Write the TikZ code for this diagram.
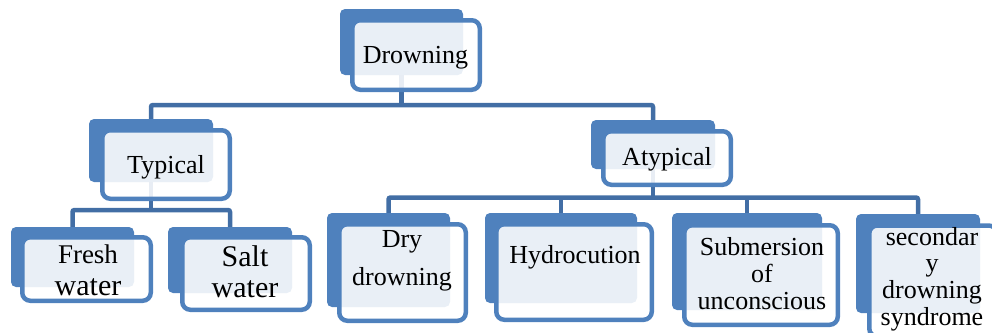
\documentclass[tikz,border=0pt]{standalone}
\usepackage{fontspec}
\setmainfont{Liberation Serif}
\definecolor{backblue}{RGB}{79,129,189}
\definecolor{lineblue}{RGB}{66,110,165}

\begin{document}
\begin{tikzpicture}[
    x=1pt, y=-1pt,
    backbox/.style 2 args={fill=backblue, rounded corners=5pt, inner sep=0pt,
        minimum width=#1pt, minimum height=#2pt},
    frontbox/.style 2 args={draw=backblue, line width=4.5pt, fill=white, fill opacity=0.88,
        rounded corners=8pt, inner sep=0pt, minimum width=#1pt, minimum height=#2pt},
    boxtext/.style={inner sep=0pt, align=center, font=\fontsize{26}{27}\selectfont},
    conn/.style={draw=lineblue, line width=4.5pt, rounded corners=2pt}
]
\useasboundingbox (0,0) rectangle (992,332);
\clip (0,0) rectangle (992,332);

% Back boxes
\node[backbox={123}{66}] (drowning) at (401.5,42) {};
\node[backbox={124}{63}] (typical) at (151,150.5) {};
\node[backbox={124}{49}] (atypical) at (653,144.5) {};
\node[backbox={123}{60}] (fresh) at (72.5,257) {};
\node[backbox={124}{66}] (salt) at (230,260) {};
\node[backbox={123}{94}] (dry) at (388.5,260) {};
\node[backbox={152}{90}] (hydro) at (561,258) {};
\node[backbox={150}{97}] (submersion) at (747,261.5) {};
\node[backbox={124}{99}] (secondary) at (918,263.5) {};

% Connectors
\coordinate (bartop) at (401.5,105);
\coordinate (bartyp) at (151,210);
\coordinate (baratyp) at (653,197.5);
\draw[conn] (drowning.south) -- (bartop);
\draw[conn] (typical.north) |- (bartop) -| (atypical.north);
\draw[conn] (typical.south) -- (bartyp);
\draw[conn] (fresh.north) |- (bartyp) -| (salt.north);
\draw[conn] (atypical.south) -- (baratyp);
\draw[conn] (dry.north) |- (baratyp) -| (secondary.north);
\draw[conn] (hydro.north) -- (hydro.north |- baratyp);
\draw[conn] (submersion.north) -- (submersion.north |- baratyp);

% Front boxes
\node[frontbox={127.5}{69.5}] (drowningf) at (416,55) {};
\node[frontbox={127.5}{68.5}] (typicalf) at (166,164.5) {};
\node[frontbox={127.5}{53.5}] (atypicalf) at (667,158) {};
\node[frontbox={128.5}{63.5}] (freshf) at (86.5,269) {};
\node[frontbox={127.5}{72.5}] (saltf) at (246,273.5) {};
\node[frontbox={126.5}{96.5}] (dryf) at (402.5,272.5) {};
\node[frontbox={155.5}{95.5}] (hydrof) at (574,272) {};
\node[frontbox={153.5}{99.5}] (submersionf) at (761,275) {};
\node[frontbox={127.5}{111}] (secondaryf) at (933,281) {};

% Texts
\node[boxtext, anchor=base] (drowningt) at (415.5,63) {Drowning};
\node[boxtext, anchor=base] (typicalt) at (166,173) {Typical};
\node[boxtext, anchor=base] (atypicalt) at (667,165) {Atypical};
\node[boxtext, font=\fontsize{30}{32}\selectfont] (fresht) at (88,270)
    {{\fontsize{27}{32}\selectfont Fresh}\\water};
\node[boxtext, font=\fontsize{30}{31}\selectfont] (saltt) at (245,272) {Salt\\water};
\node[boxtext, font=\fontsize{26}{38}\selectfont] (dryt) at (402,261) {Dry\\drowning};
\node[boxtext, anchor=base] (hydrot) at (575,263) {Hydrocution};
\node[boxtext] (submersiont) at (762,274) {Submersion\\of\\unconscious};
\node[boxtext, font=\fontsize{26}{26.7}\selectfont] (secondaryt) at (932,279)
    {secondar\\y\\drowning\\syndrome};

\end{tikzpicture}
\end{document}
